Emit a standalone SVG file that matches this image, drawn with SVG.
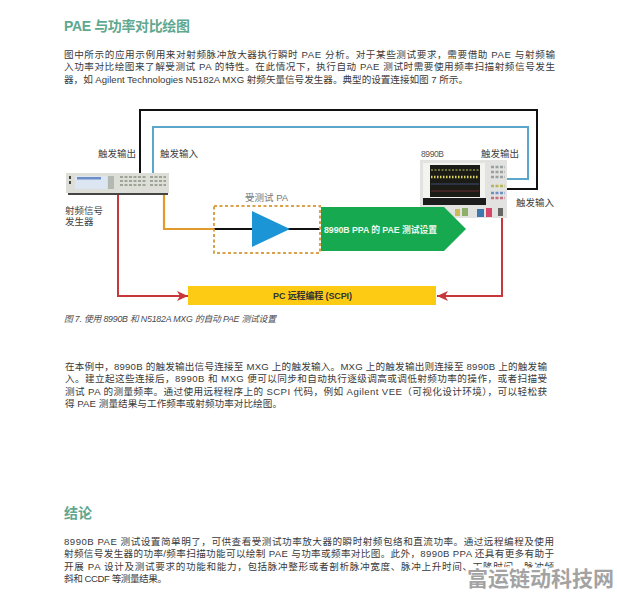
<svg xmlns="http://www.w3.org/2000/svg" width="617" height="596" viewBox="0 0 617 596">
<defs>
<marker id="ar" markerUnits="userSpaceOnUse" markerWidth="12" markerHeight="10" refX="11" refY="5" orient="auto"><path d="M0 0L11 5L0 10L3 5Z" fill="#c8373a"/></marker>
<marker id="ao" markerUnits="userSpaceOnUse" markerWidth="8" markerHeight="7" refX="7" refY="3.5" orient="auto"><path d="M0 0L7 3.5L0 7Z" fill="#e39a2c"/></marker>
<filter id="soft" x="-5%" y="-5%" width="110%" height="110%"><feGaussianBlur stdDeviation="0.5"/></filter>
</defs>
<style>
text{font-family:"Liberation Sans","Noto Sans CJK SC",sans-serif}
.b{font-size:9.6px;fill:#3a3a3a}
.h{font-size:14px;fill:#5fa88f;font-weight:700}
.l{font-size:9.5px;fill:#3f3f3f}
.c{font-size:8.8px;fill:#4a4a4a;font-style:italic}
.w{fill:none;stroke-linejoin:miter}
</style>
<rect width="617" height="596" fill="#fff"/>
<text class="h" x="64" y="31" textLength="126">PAE 与功率对比绘图</text>
<text class="b" x="64" y="58" textLength="491">图中所示的应用示例用来对射频脉冲放大器执行瞬时 PAE 分析。对于某些测试要求，需要借助 PAE 与射频输</text>
<text class="b" x="64" y="70" textLength="491">入功率对比绘图来了解受测试 PA 的特性。在此情况下，执行自动 PAE 测试时需要使用频率扫描射频信号发生</text>
<text class="b" x="64" y="83" textLength="404">器，如 Agilent Technologies N5182A MXG 射频矢量信号发生器。典型的设置连接如图 7 所示。</text>
<g id="connectors">
<path class="w" d="M140 173V110H537V189H507" stroke="#111" stroke-width="2"/>
<path class="w" d="M153 173V127H528V179H507" stroke="#5ba7cc" stroke-width="2"/>
<path class="w" d="M118 195V296H188" stroke="#c8373a" stroke-width="2" marker-end="url(#ar)"/>
<path class="w" d="M502 218V296H437" stroke="#c8373a" stroke-width="2" marker-end="url(#ar)"/>
<path class="w" d="M214 229H164V185" stroke="#e39a2c" stroke-width="2.2" marker-end="url(#ao)"/>
<path class="w" d="M214 229H320" stroke="#111" stroke-width="2"/>
</g>
<g id="signal-generator">
<g filter="url(#soft)">
<rect x="66" y="173" width="103" height="20" fill="#deded8"/>
<rect x="68" y="193" width="100" height="2" fill="#444"/>
<rect x="75" y="176" width="32" height="13" fill="#dbe6f2"/>
<rect x="77" y="177" width="24" height="2.5" fill="#6d8cc8"/>
<rect x="108" y="176" width="6" height="13" fill="#b3b9b0"/>
<path d="M120 177h26M120 181h26M120 185h26M150 177h16M150 181h16M150 185h16" stroke="#9ea597" stroke-width="2" stroke-dasharray="3 1.5"/>
<rect x="69" y="176" width="2" height="3" fill="#444"/><rect x="69" y="181" width="2" height="3" fill="#444"/>
</g>
<text class="l" x="65" y="214">射频信号</text>
<text class="l" x="65" y="225">发生器</text>
</g>
<g id="trigger-labels">
<text class="l" x="98" y="157">触发输出</text>
<text class="l" x="160" y="157">触发输入</text>
<text class="l" x="481" y="157">触发输出</text>
<text class="l" x="516" y="206">触发输入</text>
</g>
<g id="scope">
<text x="421" y="156.5" font-size="8.5" fill="#555" textLength="23">8990B</text>
<g filter="url(#soft)">
<rect x="420" y="160" width="87" height="58" fill="#e2e3e0"/>
<rect x="423" y="163" width="62" height="42" fill="#f3f3f0"/>
<rect x="430" y="165" width="50" height="32" fill="#1b1b18"/>
<path d="M431 170h48" stroke="#8b8f45" stroke-width="1.5" stroke-dasharray="2 1.5"/>
<path d="M431 177h48" stroke="#dcd35a" stroke-width="2.5" stroke-dasharray="1.5 1.5"/>
<path d="M431 184h48" stroke="#404a70" stroke-width="1"/>
<path d="M431 191h48" stroke="#6a2f2f" stroke-width="1"/>
<rect x="423" y="198" width="63" height="7" fill="#1c1c1a"/>
<path d="M491 167h14M491 172h14M491 177h14" stroke="#9a9f9f" stroke-width="2.5" stroke-dasharray="3 1.5"/>
<path d="M491 186h14" stroke="#b8b45a" stroke-width="2.5" stroke-dasharray="3 1.5"/>
<path d="M491 193h14" stroke="#6f8fc0" stroke-width="2.5" stroke-dasharray="3 1.5"/>
<path d="M491 198h14" stroke="#c06f80" stroke-width="2.5" stroke-dasharray="3 1.5"/>
<rect x="455" y="209" width="5" height="7" fill="#c9ba5a"/><rect x="462" y="208" width="6" height="8" fill="#8fae6a"/><rect x="477" y="209" width="7" height="8" fill="#3a78b0"/><rect x="486" y="208" width="6" height="9" fill="#d5466a"/>
<rect x="498" y="208" width="5" height="8" fill="#666"/>
</g>
</g>
<g id="pa">
<text x="245" y="201" font-size="9.5" fill="#777">受测试 PA</text>
<rect x="214" y="206" width="106" height="47" fill="none" stroke="#d9a24a" stroke-width="2" stroke-dasharray="3 2.5"/>
<path d="M252 211V247L290 229Z" fill="#1b95d6"/>
</g>
<g id="ppa">
<path d="M321 207H444L466 229L444 251H321Z" fill="#17a94f"/>
<text x="324" y="232.5" font-size="8.8" font-weight="700" fill="#eef7ee" textLength="113">8990B PPA 的 PAE 测试设置</text>
</g>
<g id="pc">
<rect x="188" y="286" width="248" height="19" fill="#fdcb14"/>
<text x="273" y="299" font-size="9" font-weight="700" fill="#333" textLength="79">PC 远程编程 (SCPI)</text>
</g>
<text class="c" x="64" y="322" textLength="212">图 7. 使用 8990B 和 N5182A MXG 的自动 PAE 测试设置</text>
<text class="b" x="65" y="370" textLength="482">在本例中，8990B 的触发输出信号连接至 MXG 上的触发输入。MXG 上的触发输出则连接至 8990B 上的触发输</text>
<text class="b" x="65" y="382" textLength="482">入。建立起这些连接后，8990B 和 MXG 便可以同步和自动执行逐级调高或调低射频功率的操作，或者扫描受</text>
<text class="b" x="65" y="395" textLength="482">测试 PA 的测量频率。通过使用远程程序上的 SCPI 代码，例如 Agilent VEE（可视化设计环境），可以轻松获</text>
<text class="b" x="65" y="407" textLength="217">得 PAE 测量结果与工作频率或射频功率对比绘图。</text>
<text class="h" x="64" y="518">结论</text>
<text class="b" x="64" y="544.5" textLength="490">8990B PAE 测试设置简单明了，可供查看受测试功率放大器的瞬时射频包络和直流功率。通过远程编程及使用</text>
<text class="b" x="64" y="557" textLength="490">射频信号发生器的功率/频率扫描功能可以绘制 PAE 与功率或频率对比图。此外，8990B PPA 还具有更多有助于</text>
<text class="b" x="64" y="569.5" textLength="490">开展 PA 设计及测试要求的功能和能力，包括脉冲整形或者剖析脉冲宽度、脉冲上升时间、下降时间、脉冲倾</text>
<text class="b" x="64" y="582" textLength="103">斜和 CCDF 等测量结果。</text>
<text x="467" y="586" font-size="21" font-weight="700" fill="#a3a3a3" stroke="#fff" stroke-width="5" paint-order="stroke">富运链动科技网</text>
</svg>
